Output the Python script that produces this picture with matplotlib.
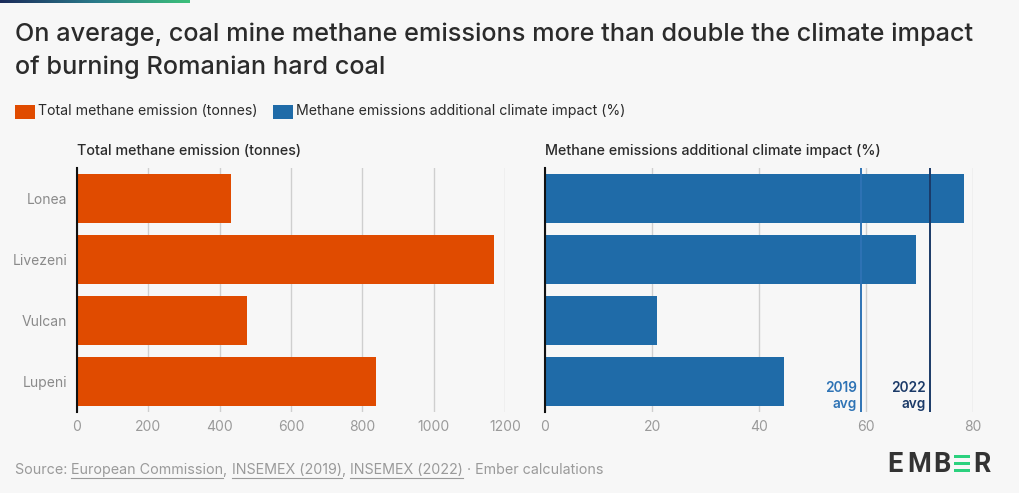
import matplotlib
matplotlib.use("Agg")
import matplotlib.pyplot as plt
import numpy as np
from matplotlib.patches import Rectangle
from matplotlib.colors import LinearSegmentedColormap

mines = ["Lonea", "Livezeni", "Vulcan", "Lupeni"]
methane_tonnes = [433, 1169, 476, 838]
impact_pct = [78.3, 69.3, 20.9, 44.6]
avg_labels = ["2019\navg", "2022\navg"]
avg_values = [59.0, 72.0]
left_ticks = [0, 200, 400, 600, 800, 1000, 1200]
right_ticks = [0, 20, 40, 60, 80]

ORANGE = "#E04B00"
BLUE = "#1F6BA8"
AVG_COLORS = ["#2E73B5", "#1B3A68"]
BG = "#F7F7F7"
DARK = "#2B2B2B"
GRAY = "#9A9A9A"
FONT = ["Inter", "DejaVu Sans"]
plt.rcParams['font.family'] = FONT

fig = plt.figure(figsize=(10.2, 4.93), dpi=100)
fig.patch.set_facecolor(BG)
W, H = 1020, 493

def fx(px):
    return px / W

def fy(py):
    return 1 - py / H

# top gradient bar
grad = np.linspace(0, 1, 256).reshape(1, -1)
cmap = LinearSegmentedColormap.from_list("g", ["#1B2B5A", "#2A7A8A", "#3CC07A"])
gax = fig.add_axes([0, fy(3), fx(190), 3 / H])
gax.imshow(grad, aspect="auto", cmap=cmap)
gax.axis("off")

# Title
fig.text(fx(15), fy(34), "On average, coal mine methane emissions more than double the climate impact",
         fontsize=18.2, color=DARK, va="center", ha="left", fontweight="medium")
fig.text(fx(15), fy(67), "of burning Romanian hard coal",
         fontsize=18.2, color=DARK, va="center", ha="left", fontweight="medium")

# Legend
for x0, col, lab in [(15, ORANGE, "Total methane emission (tonnes)"),
                     (273, BLUE, "Methane emissions additional climate impact (%)")]:
    fig.patches.append(Rectangle((fx(x0), fy(119)), fx(20), 14 / H, transform=fig.transFigure,
                                 facecolor=col, edgecolor="none"))
    fig.text(fx(x0 + 23), fy(111), lab, fontsize=10.2, color=DARK, va="center", ha="left")

y = np.arange(len(mines))
ax_bottom = fy(412)
ax_h = (412 - 168) / H

axL = fig.add_axes([fx(77), ax_bottom, fx(428), ax_h])
axR = fig.add_axes([fx(545), ax_bottom, fx(428.3), ax_h])

for ax, vals, col, ticks, xmax, title in [
        (axL, methane_tonnes, ORANGE, left_ticks, 1200, "Total methane emission (tonnes)"),
        (axR, impact_pct, BLUE, right_ticks, 80, "Methane emissions additional climate impact (%)")]:
    ax.set_facecolor(BG)
    ax.barh(y, vals, height=0.79, color=col, zorder=2)
    ax.set_ylim(3.5, -0.5)
    ax.set_xlim(0, xmax)
    ax.set_xticks(ticks)
    ax.set_xticklabels([str(t) for t in ticks])
    ax.grid(axis="x", color="#CFCFCF", linewidth=1, zorder=0)
    for s in ["top", "right", "bottom"]:
        ax.spines[s].set_visible(False)
    ax.spines["left"].set_color("#111111")
    ax.spines["left"].set_linewidth(1.5)
    ax.spines["left"].set_zorder(3)
    ax.tick_params(axis="x", length=0, labelsize=10, labelcolor=GRAY, pad=6)
    ax.tick_params(axis="y", length=0, labelsize=10, labelcolor="#8A8A8A", pad=7)
    ax.text(0, 1.07, title, transform=ax.transAxes, fontsize=10.3, color=DARK,
            fontweight="medium", ha="left", va="center")

axL.set_yticks(y)
axL.set_yticklabels(mines)
axR.set_yticks([])

for v, lab, c in zip(avg_values, avg_labels, AVG_COLORS):
    axR.axvline(v, color=c, linewidth=1.4, zorder=4)
    axR.text(v - 0.8, 3.49, lab, color=c, fontsize=9.8, ha="right", va="bottom",
             fontweight="semibold", linespacing=1.25, zorder=5)

# Source
src_y = fy(470)
parts = [("Source: ", False), ("European Commission", True), (", ", False),
         ("INSEMEX (2019)", True), (", ", False), ("INSEMEX (2022)", True),
         (" · Ember calculations", False)]
fig.canvas.draw()
renderer = fig.canvas.get_renderer()
xcur = fx(15)
for txt, ul in parts:
    t = fig.text(xcur, src_y, txt, fontsize=10.3, color=GRAY, va="center", ha="left")
    bb = t.get_window_extent(renderer=renderer)
    w = bb.width / W
    if ul:
        fig.lines.append(plt.Line2D([xcur, xcur + w], [fy(478), fy(478)], transform=fig.transFigure,
                                    color=GRAY, linewidth=0.8))
    xcur += w

# EMBER logo
LOGO = "#333333"
for letter, px in [("E", 887), ("M", 907), ("B", 933), ("R", 973)]:
    fig.text(fx(px), fy(472), letter, fontsize=19.5, fontweight="bold", color=LOGO,
             va="baseline", ha="left", family=["Roboto", "DejaVu Sans"])
for yy in [454.5, 461.5, 468.5]:
    fig.patches.append(Rectangle((fx(954), fy(yy + 3.8)), fx(16), 3.8 / H, transform=fig.transFigure,
                                 facecolor="#2BD17E", edgecolor="none"))

fig.savefig("out.png", dpi=100, facecolor=BG)
